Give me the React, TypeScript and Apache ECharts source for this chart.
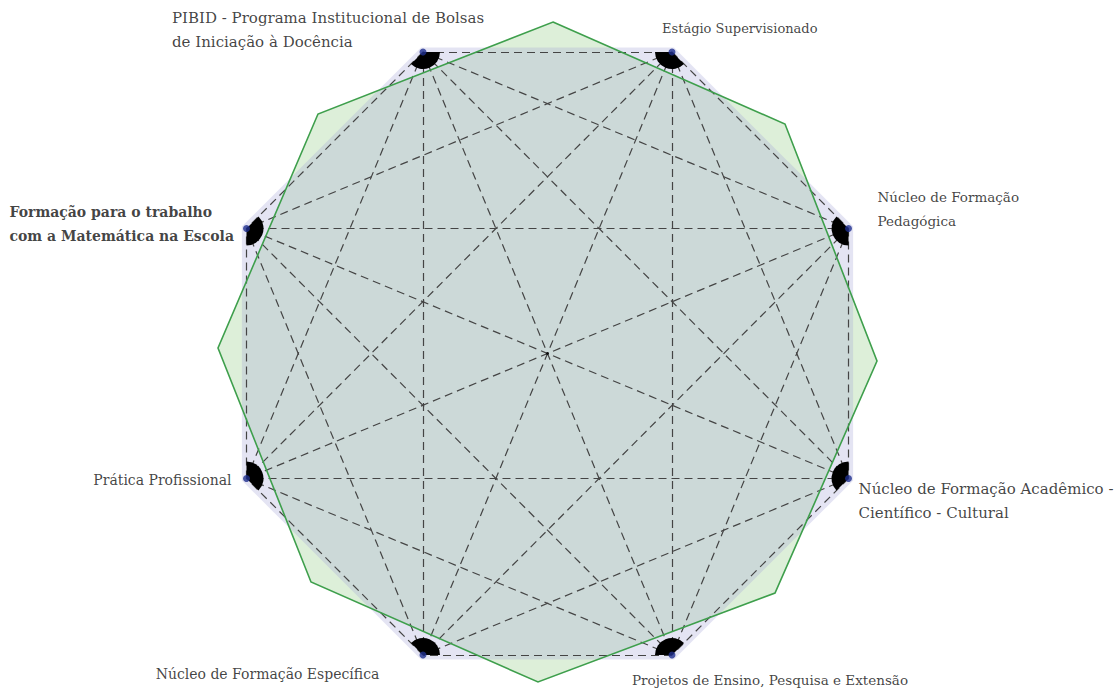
import React, { useEffect, useRef } from 'react';
import * as echarts from 'echarts';

// Vertex names (octagon, clockwise from upper-left)
const nodeNames = [
  'PIBID - Programa Institucional de Bolsas\nde Iniciação à Docência',
  'Estágio Supervisionado',
  'Núcleo de Formação\nPedagógica',
  'Núcleo de Formação Acadêmico -\nCientífico - Cultural',
  'Projetos de Ensino, Pesquisa e Extensão',
  'Núcleo de Formação Específica',
  'Prática Profissional',
  'Formação para o trabalho\ncom a Matemática na Escola',
];
// Vertex positions (data units, origin at centre, y up)
const nodeX = [-124.5, 124.5, 301, 301, 124.5, -124.5, -301, -301];
const nodeY = [301.5, 301.5, 125, -125, -301.5, -301.5, -125, 125];
// Green octagon behind
const greenX = [5.5, 237.5, 329.5, 227.5, -9.5, -236.5, -329.5, -229.5];
const greenY = [331.5, 229.5, -7.5, -239.5, -328.5, -228.5, 5.5, 239.5];
const centerPoint = [0, 0];

// label placement (style only)
const labelPlacement: any[] = [
  { align: 'left', offset: [-251, -22], size: 15 },
  { align: 'left', offset: [-10, -24], size: 13 },
  { align: 'left', offset: [29, -20], size: 13.5 },
  { align: 'left', offset: [10, 22], size: 15 },
  { align: 'center', offset: [98, 25], size: 13.5 },
  { align: 'center', offset: [-155.5, 19], size: 14 },
  { align: 'right', offset: [-15, 1], size: 14 },
  { align: 'left', offset: [-237, -5], size: 14, fontWeight: 'bold' },
];

const FONT = 'DejaVu Serif';

export default function App() {
  const ref = useRef<HTMLDivElement>(null);
  useEffect(() => {
    if (!ref.current) return;
    const chart = echarts.init(ref.current, undefined, { renderer: 'svg' });
    const nodes = nodeX.map((x, i) => [x, nodeY[i]]);
    const green = greenX.map((x, i) => [x, greenY[i]]);
    const edges: any[] = [];
    for (let i = 0; i < nodes.length; i++) {
      for (let j = i + 1; j < nodes.length; j++) {
        edges.push({ coords: [nodes[i], nodes[j]] });
      }
    }
    const polygonSeries = (pts: number[][], style: any, z: number, grow = 0) => ({
      type: 'custom',
      coordinateSystem: 'cartesian2d',
      data: pts,
      z,
      silent: true,
      renderItem: (params: any, api: any) => {
        if (params.dataIndex !== 0) return null;
        const c = api.coord(centerPoint);
        const points = pts.map((p) => {
          const q = api.coord(p);
          if (!grow) return q;
          const dx = q[0] - c[0];
          const dy = q[1] - c[1];
          const len = Math.sqrt(dx * dx + dy * dy);
          const k = (len + grow) / len;
          return [c[0] + dx * k, c[1] + dy * k];
        });
        return { type: 'polygon', shape: { points }, style };
      },
    });

    chart.setOption({
      animation: false,
      backgroundColor: '#ffffff',
      grid: { left: 0, right: 0, top: 0, bottom: 0 },
      xAxis: { type: 'value', min: -547.5, max: 569.5, show: false, splitLine: { show: false } },
      yAxis: { type: 'value', min: -334.5, max: 353.5, show: false, splitLine: { show: false } },
      series: [
        polygonSeries(green, { fill: '#ddefd9', stroke: 'none' }, 1),
        polygonSeries(nodes, { fill: 'rgba(165,165,215,0.3)', stroke: 'none' }, 2, 5),
        {
          type: 'lines',
          coordinateSystem: 'cartesian2d',
          z: 3,
          silent: true,
          data: edges,
          lineStyle: { color: '#444444', width: 1.2, type: [8, 5], opacity: 1 },
        },
        polygonSeries(green, { fill: 'none', stroke: '#3e9f4c', lineWidth: 1.6 }, 4),
        {
          type: 'custom',
          coordinateSystem: 'cartesian2d',
          data: nodes,
          z: 5,
          silent: true,
          renderItem: (params: any, api: any) => {
            const p = api.coord([api.value(0), api.value(1)]);
            const c = api.coord(centerPoint);
            const a = Math.atan2(c[1] - p[1], c[0] - p[0]);
            const h = (67.5 * Math.PI) / 180;
            return {
              type: 'sector',
              shape: { cx: p[0], cy: p[1], r0: 0, r: 17, startAngle: a - h, endAngle: a + h, clockwise: true },
              style: { fill: '#000000' },
            };
          },
        },
        {
          type: 'scatter',
          z: 6,
          symbol: 'circle',
          symbolSize: 7,
          itemStyle: { color: '#1f2f8f' },
          data: nodes.map((p, i) => ({
            value: p,
            name: nodeNames[i],
            label: {
              show: true,
              position: 'inside',
              formatter: nodeNames[i],
              align: labelPlacement[i].align,
              verticalAlign: 'middle',
              offset: labelPlacement[i].offset,
              fontWeight: labelPlacement[i].fontWeight || 'normal',
              fontFamily: FONT,
              fontSize: labelPlacement[i].size,
              lineHeight: 24,
              color: '#111111',
            },
          })),
        },
        {
          type: 'scatter',
          z: 6,
          symbolSize: 3,
          itemStyle: { color: '#000000' },
          data: [centerPoint],
        },
      ],
    });
    return () => chart.dispose();
  }, []);
  return (
    <div
      ref={ref}
      style={{ position: 'fixed', left: 0, top: 0, width: 1117, height: 688, background: '#fff' }}
    />
  );
}
